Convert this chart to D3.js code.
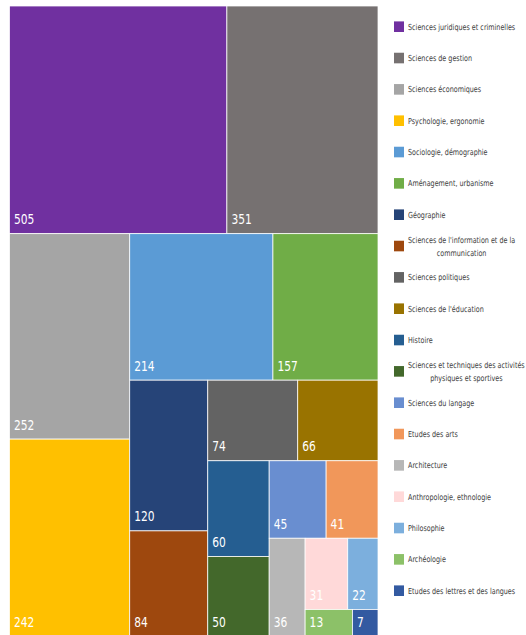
<!DOCTYPE html>
<html>
<head>
<meta charset="utf-8">
<script src="https://cdn.jsdelivr.net/npm/d3@7"></script>
<style>
  body { margin: 0; background: #fff; }
  svg { display: block; }
  .cell-label { fill: #fff; font-family: "Liberation Sans Narrow", "DejaVu Sans Condensed", sans-serif; font-size: 14.5px; }
  .legend-text { fill: #404040; font-family: "Liberation Sans Narrow", "DejaVu Sans Condensed", sans-serif; font-size: 8.3px; }
</style>
</head>
<body>
<script>
var width = 526;
var height = 635;

var categories = [
  "Sciences juridiques et criminelles", "Sciences de gestion", "Sciences économiques",
  "Psychologie, ergonomie", "Sociologie, démographie", "Aménagement, urbanisme",
  "Géographie", "Sciences de l'information et de la communication", "Sciences politiques",
  "Sciences de l'éducation", "Histoire", "Sciences et techniques des activités physiques et sportives",
  "Sciences du langage", "Etudes des arts", "Architecture", "Anthropologie, ethnologie",
  "Philosophie", "Archéologie", "Etudes des lettres et des langues"
];
var values = [505, 351, 252, 242, 214, 157, 120, 84, 74, 66, 60, 50, 45, 41, 36, 31, 22, 13, 7];
var colors = ["#7030A0", "#767171", "#A5A5A5", "#FFC000", "#5B9BD5", "#70AD47",
              "#264478", "#9E480E", "#636363", "#997300", "#255E91", "#43682B",
              "#698ED0", "#F1975A", "#B7B7B7", "#FFD9D9", "#7CAFDD", "#8CC168", "#335AA1"];

// how many items go in each strip, strips alternate horizontal / vertical
var stripSizes = [2, 2, 2, 2, 2, 2, 2, 1, 2, 1, 1];

var plot = {x: 9.5, y: 6, w: 368.5, h: 630.4};
var labelSquash = 0.82;   // the original font is narrower than what we have
var legendSquash = 0.86;
var wrapWidth = 125;

function stripTile(parent, x0, y0, x1, y1) {
  var nodes = parent.children;
  var rest = parent.value;
  var i = 0, k = 0;
  while (i < nodes.length) {
    var n = stripSizes[k] || nodes.length - i;
    var row = {children: nodes.slice(i, i + n)};
    row.value = d3.sum(row.children, d => d.value);
    if (k % 2 === 0) {
      var yy = y0 + (y1 - y0) * row.value / rest;
      d3.treemapDice(row, x0, y0, x1, yy);
      y0 = yy;
    } else {
      var xx = x0 + (x1 - x0) * row.value / rest;
      d3.treemapSlice(row, x0, y0, xx, y1);
      x0 = xx;
    }
    rest -= row.value;
    i += n;
    k++;
  }
}

var items = categories.map((c, i) => ({name: c, value: values[i], color: colors[i]}));

var root = d3.hierarchy({children: items}).sum(d => d.value || 0);

d3.treemap()
  .size([plot.w, plot.h])
  .tile(stripTile)(root);

var svg = d3.select("body")
  .append("svg")
  .attr("width", width)
  .attr("height", height);

var cells = svg.append("g")
  .attr("transform", "translate(" + plot.x + "," + plot.y + ")")
  .selectAll("g")
  .data(root.leaves())
  .enter()
  .append("g");

cells.append("rect")
  .attr("x", d => d.x0)
  .attr("y", d => d.y0)
  .attr("width", d => d.x1 - d.x0)
  .attr("height", d => d.y1 - d.y0)
  .attr("fill", d => d.data.color)
  .attr("stroke", "#fff")
  .attr("stroke-width", 0.75);

cells.append("text")
  .attr("class", "cell-label")
  .attr("transform", d => "translate(" + (d.x0 + 4.5) + "," + (d.y1 - 9.5) + ") scale(" + labelSquash + ",1)")
  .text(d => d.data.value);

// legend
var legendY = d3.scalePoint()
  .domain(categories)
  .range([26.7, 590.7]);

var legend = svg.append("g")
  .selectAll("g")
  .data(items)
  .enter()
  .append("g")
  .attr("transform", d => "translate(0," + legendY(d.name) + ")");

legend.append("rect")
  .attr("x", 394)
  .attr("y", -5.3)
  .attr("width", 10)
  .attr("height", 10.6)
  .attr("fill", d => d.color);

function legendText(g, x, y, str, anchor) {
  return g.append("text")
    .attr("class", "legend-text")
    .attr("text-anchor", anchor || "start")
    .attr("transform", "translate(" + x + "," + y + ") scale(" + legendSquash + ",1)")
    .text(str);
}

legend.each(function(d) {
  var g = d3.select(this);
  var words = d.name.split(" ");
  var lines = [];
  var line = [];
  var probe = g.append("text").attr("class", "legend-text");
  words.forEach(function(w) {
    line.push(w);
    probe.text(line.join(" "));
    if (probe.node().getComputedTextLength() * legendSquash > wrapWidth && line.length > 1) {
      line.pop();
      lines.push(line.join(" "));
      line = [w];
    }
  });
  lines.push(line.join(" "));
  probe.remove();

  if (lines.length === 1) {
    legendText(g, 408, 3, lines[0]);
  } else {
    var first = legendText(g, 408, -3.5, lines[0]);
    var mid = 408 + first.node().getComputedTextLength() * legendSquash / 2;
    legendText(g, mid, 9.5, lines[1], "middle");
  }
});
</script>
</body>
</html>
